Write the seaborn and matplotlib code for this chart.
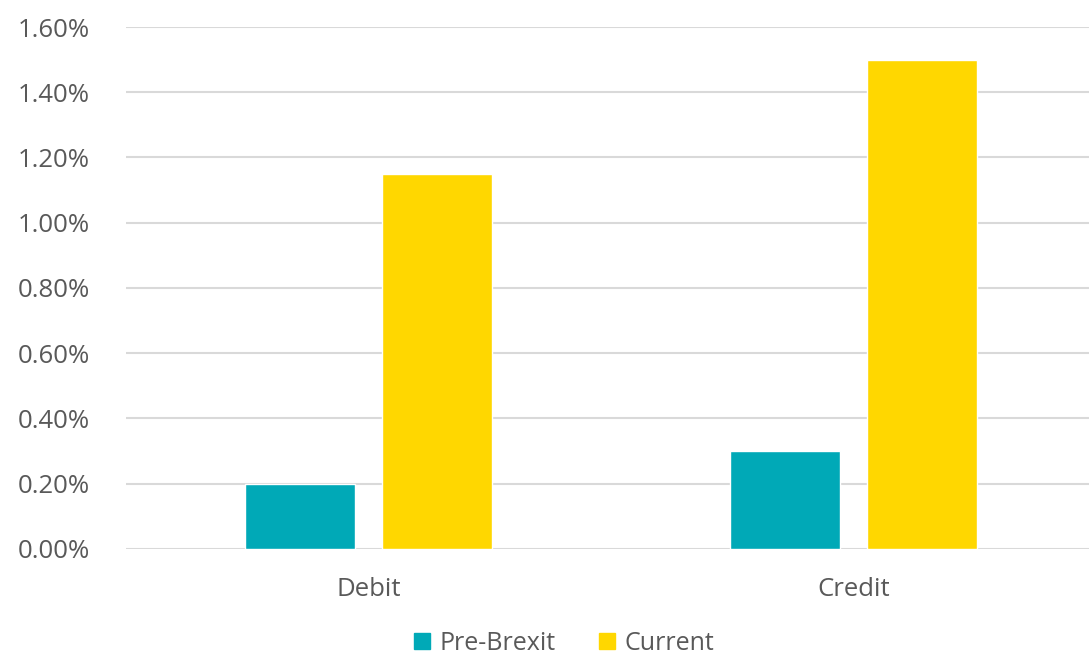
import matplotlib
matplotlib.use("Agg")
import matplotlib.pyplot as plt
import seaborn as sns
import pandas as pd
from matplotlib.ticker import FuncFormatter
from matplotlib.patches import Patch

categories = ["Debit", "Credit"]
series = ["Pre-Brexit", "Current"]
pre_brexit = [0.20, 0.30]
current = [1.15, 1.50]
colors = ["#00A9B7", "#FFD700"]

df = pd.DataFrame({
    "cat": categories * 2,
    "series": [series[0]] * 2 + [series[1]] * 2,
    "value": pre_brexit + current,
})

sns.set_style("white")
plt.rcParams["font.family"] = ["Open Sans", "DejaVu Sans"]

fig = plt.figure(figsize=(10.89, 6.57), dpi=100)
ax = fig.add_axes([0.1157, 0.1644, 0.8907, 0.7945])
sns.barplot(data=df, x="cat", y="value", hue="series", palette=colors,
            width=0.565, gap=0.2, ax=ax, legend=False, saturation=1,
            order=categories, hue_order=series)
ax.set_xlim(-0.5, 1.5)
ax.set_ylim(0, 1.6)
ax.set_yticks([i * 0.2 for i in range(9)])
ax.yaxis.set_major_formatter(FuncFormatter(lambda v, p: f"{v:.2f}%"))
ax.grid(axis="y", color="#D9D9D9", lw=1.5)
ax.set_axisbelow(True)
for s in ax.spines.values():
    s.set_visible(False)
ax.set_xlabel("")
ax.set_ylabel("")
ax.tick_params(axis="both", length=0, labelsize=18.5, colors="#595959", pad=26)
ax.tick_params(axis="x", pad=20)

handles = [Patch(color=c, label=s) for c, s in zip(colors, series)]
fig.legend(handles=handles, loc="lower center", bbox_to_anchor=(0.518, 0.0),
           borderaxespad=0.0, borderpad=0.05,
           ncol=2, frameon=False, fontsize=18, labelcolor="#595959",
           handlelength=0.65, handleheight=0.65, handletextpad=0.4, columnspacing=1.7)
fig.savefig("out.png", dpi=100)
